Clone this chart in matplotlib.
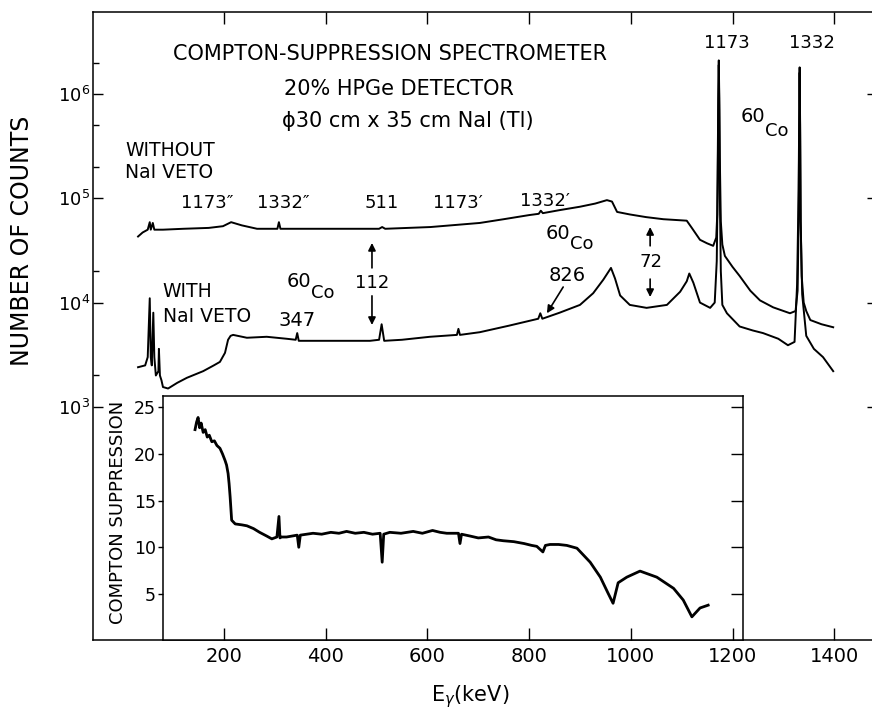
import matplotlib
matplotlib.use("Agg")
import matplotlib.pyplot as plt
from matplotlib.ticker import FixedLocator, NullFormatter, NullLocator, LogFormatterMathtext

plt.rcParams.update({
    "font.family": "DejaVu Sans", "axes.linewidth": 1.1,
    "xtick.major.width": 1.0, "ytick.major.width": 1.0, "ytick.minor.width": 1.0,
})

# HPGe spectrum without NaI veto (keV, counts)
E_WITHOUT = [31, 40, 50, 54, 56, 60, 63, 80, 120, 170, 198, 214, 235, 265, 305, 308, 311,
             400, 505, 511, 517, 606, 703, 750, 800, 819, 823, 827, 860, 900, 930, 953, 963,
             973, 998, 1030, 1064, 1110, 1120, 1136, 1150, 1162, 1168, 1170, 1171, 1172, 1173,
             1174, 1175, 1177, 1180, 1185, 1200, 1214, 1235, 1254, 1280, 1313, 1324, 1328, 1330,
             1331, 1332, 1333, 1334, 1336, 1340, 1345, 1353, 1375, 1398]
N_WITHOUT = [4.3e4, 4.7e4, 5.0e4, 5.9e4, 5.0e4, 5.8e4, 5.0e4, 5.0e4, 5.1e4, 5.2e4, 5.4e4, 5.9e4,
             5.5e4, 5.1e4, 5.1e4, 5.9e4, 5.1e4, 5.1e4, 5.1e4, 5.3e4, 5.1e4, 5.3e4, 5.8e4, 6.3e4,
             6.9e4, 7.1e4, 7.6e4, 7.2e4, 7.7e4, 8.3e4, 8.9e4, 9.6e4, 9.3e4, 7.4e4, 7.0e4, 6.6e4,
             6.3e4, 6.1e4, 5.2e4, 4.0e4, 3.7e4, 3.5e4, 4.2e4, 7e4, 2.5e5, 9e5, 2.1e6, 9e5, 2.5e5,
             6e4, 3.6e4, 2.8e4, 2.2e4, 1.8e4, 1.3e4, 1.05e4, 9.0e3, 7.9e3, 8.3e3, 1.3e4, 6e4, 4e5,
             1.8e6, 4e5, 6e4, 1.8e4, 1.0e4, 8.3e3, 6.8e3, 6.2e3, 5.8e3]

# HPGe spectrum with NaI veto (keV, counts)
E_WITH = [31, 45, 50, 54, 56, 58, 61, 63, 66, 71, 72, 74, 77, 80, 90, 108, 127, 159, 180, 192,
          202, 208, 213, 218, 245, 284, 323, 341, 344, 347, 363, 400, 487, 505, 510, 515, 550,
          605, 658, 661, 664, 703, 760, 818, 822, 826, 860, 900, 926, 946, 961, 969, 979, 998,
          1031, 1071, 1097, 1110, 1115, 1123, 1136, 1156, 1165, 1169, 1171, 1172, 1173, 1174,
          1175, 1177, 1180, 1189, 1214, 1240, 1260, 1290, 1309, 1322, 1327, 1330, 1331, 1332,
          1333, 1334, 1337, 1345, 1360, 1378, 1398]
N_WITH = [2.4e3, 2.5e3, 3.0e3, 1.1e4, 3.0e3, 2.5e3, 8.0e3, 3.0e3, 2.0e3, 2.2e3, 3.6e3, 2.0e3,
          1.8e3, 1.55e3, 1.5e3, 1.7e3, 1.9e3, 2.2e3, 2.5e3, 2.7e3, 3.3e3, 4.4e3, 4.8e3, 4.9e3,
          4.6e3, 4.7e3, 4.5e3, 4.4e3, 5.1e3, 4.3e3, 4.3e3, 4.3e3, 4.3e3, 4.4e3, 6.2e3, 4.3e3,
          4.4e3, 4.7e3, 4.9e3, 5.6e3, 4.9e3, 5.2e3, 6.0e3, 7.0e3, 7.9e3, 7.0e3, 8.0e3, 9.5e3,
          1.23e4, 1.66e4, 2.15e4, 1.7e4, 1.17e4, 9.5e3, 8.9e3, 9.5e3, 1.27e4, 1.6e4, 1.9e4,
          1.55e4, 1.0e4, 8.9e3, 1.0e4, 2.5e4, 1.5e5, 7e5, 1.9e6, 7e5, 1.2e5, 2.0e4, 9.5e3, 7.9e3,
          5.9e3, 5.4e3, 5.1e3, 4.5e3, 3.9e3, 4.2e3, 1.5e4, 1.2e5, 5e5, 1.6e6, 5e5, 6e4, 1.2e4,
          4.8e3, 3.6e3, 3.0e3, 2.2e3]

# Compton suppression factor (keV, ratio)
E_RATIO = [143, 146, 149, 152, 155, 159, 163, 167, 171, 176, 181, 186, 192, 197, 202, 205, 208,
           210, 212, 215, 222, 235, 245, 258, 270, 284, 294, 304, 308, 310, 312, 323, 344, 347,
           350, 375, 392, 410, 426, 441, 458, 475, 492, 507, 511, 514, 526, 548, 572, 590, 610,
           625, 638, 661, 664, 667, 684, 700, 720, 735, 749, 770, 790, 805, 815, 827, 832, 841,
           858, 874, 894, 920, 940, 955, 965, 975, 992, 1018, 1051, 1084, 1103, 1120, 1136, 1152]
RATIO = [22.6, 23.4, 23.9, 22.8, 23.3, 22.3, 22.6, 21.8, 22.0, 21.3, 21.4, 20.9, 20.6, 20.0, 19.3,
         18.8, 17.9, 16.8, 15.4, 12.9, 12.5, 12.4, 12.3, 12.0, 11.6, 11.2, 10.9, 11.1, 13.3, 11.0,
         11.1, 11.1, 11.3, 10.0, 11.3, 11.5, 11.4, 11.6, 11.5, 11.7, 11.5, 11.6, 11.4, 11.5, 8.4,
         11.4, 11.6, 11.5, 11.7, 11.5, 11.8, 11.6, 11.5, 11.5, 10.4, 11.4, 11.2, 11.0, 11.1, 10.8,
         10.7, 10.6, 10.4, 10.2, 10.1, 9.5, 10.2, 10.3, 10.3, 10.2, 9.9, 8.4, 6.8, 5.1, 4.0, 6.2,
         6.8, 7.45, 6.8, 5.6, 4.35, 2.55, 3.5, 3.8]

X_TICKS = [200, 400, 600, 800, 1000, 1200, 1400]
INSET_X_TICKS = [200, 400, 600, 800, 1000, 1200]
Y_MAJOR = [1e3, 1e4, 1e5, 1e6]
Y_MINOR = [2e3, 2e4, 2e5, 5e5, 2e6]
RATIO_TICKS = [5, 10, 15, 20, 25]

W, H = 872, 716
fig = plt.figure(figsize=(W / 100, H / 100), dpi=100)

# ---- main spectrum axes -------------------------------------------------
ax = fig.add_axes([93 / W, 76 / H, 779 / W, 628 / H])
ax.plot(E_WITHOUT, N_WITHOUT, color="black", lw=1.4)
ax.plot(E_WITH, N_WITH, color="black", lw=1.4)
ax.set_yscale("log")
ax.set_xlim(-57.6, 1474.3)
ax.set_ylim(5.82, 6.11e6)
ax.spines["right"].set_visible(False)

ax.set_xticks(X_TICKS)
ax.xaxis.set_minor_locator(NullLocator())
ax.tick_params(axis="x", direction="in", length=8.6, top=True, labelsize=14, pad=5)
ax.yaxis.set_major_locator(FixedLocator(Y_MAJOR))
ax.yaxis.set_major_formatter(LogFormatterMathtext())
ax.yaxis.set_minor_locator(FixedLocator(Y_MINOR))
ax.yaxis.set_minor_formatter(NullFormatter())
ax.tick_params(axis="y", which="major", direction="in", length=7.5, labelsize=13, pad=2)
ax.tick_params(axis="y", which="minor", direction="in", length=4.5)

sec = ax.secondary_yaxis("right")
sec.yaxis.set_major_locator(FixedLocator(Y_MAJOR))
sec.yaxis.set_minor_locator(NullLocator())
sec.tick_params(axis="y", direction="in", length=3.6, labelright=False)
for s in sec.spines.values():
    s.set_visible(False)

ax.set_ylabel("NUMBER OF COUNTS", fontsize=17, va="center")
ax.yaxis.set_label_coords(-0.0911, 0.6354)
ax.set_xlabel(r"E$_{\gamma}$(keV)", fontsize=15, va="center")
ax.xaxis.set_label_coords(0.484, -0.0908)

# ---- annotations ------------------------------------------------------
txt = dict(color="black", ha="center", va="center")
ax.text(526, 2.42e6, "COMPTON-SUPPRESSION SPECTROMETER", fontsize=15, **txt)
ax.text(545, 1.12e6, "20% HPGe DETECTOR", fontsize=15, **txt)
ax.text(561, 5.51e5, "\u03d530 cm x 35 cm NaI (Tl)", fontsize=15, **txt)

ax.text(1189, 3.08e6, "1173", fontsize=13, **txt)
ax.text(1356, 3.08e6, "1332", fontsize=13, **txt)

ax.text(5.3, 2.9e5, "WITHOUT", fontsize=13.5, ha="left", va="center")
ax.text(5.3, 1.75e5, "NaI VETO", fontsize=13.5, ha="left", va="center")
ax.text(78, 1.27e4, "WITH", fontsize=13.5, ha="left", va="center")
ax.text(80, 7.3e3, "NaI VETO", fontsize=13.5, ha="left", va="center")

for e, lab in [(167, "1173\u2033"), (316, "1332\u2033"), (511, "511"), (660, "1173\u2032")]:
    ax.text(e, 9.0e4, lab, fontsize=13, **txt)
ax.text(831, 9.4e4, "1332\u2032", fontsize=13, **txt)


def co60(x, y, dy=-9):
    ax.text(x, y, "60", fontsize=14, **txt)
    ax.annotate("Co", (x, y), xytext=(17, dy), textcoords="offset points",
                fontsize=13, ha="center", va="center")


co60(1240, 6.15e5, dy=-11)
co60(857, 4.55e4, dy=-7.5)
co60(347, 1.58e4, dy=-8)

ax.text(874, 1.8e4, "826", fontsize=14, **txt)
ax.text(344, 6.8e3, "347", fontsize=14, **txt)

arrow = dict(arrowstyle="-|>", color="black", lw=1.2, mutation_scale=11, shrinkA=0, shrinkB=0)
ax.annotate("", xy=(835, 7.9e3), xytext=(867, 1.41e4), arrowprops=arrow)

ax.text(491, 1.54e4, "112", fontsize=13, **txt)
ax.annotate("", xy=(491, 3.73e4), xytext=(491, 2.15e4), arrowprops=arrow)
ax.annotate("", xy=(491, 6.1e3), xytext=(491, 1.16e4), arrowprops=arrow)

ax.text(1040, 2.45e4, "72", fontsize=13, **txt)
ax.annotate("", xy=(1038, 5.3e4), xytext=(1038, 3.5e4), arrowprops=arrow)
ax.annotate("", xy=(1038, 1.13e4), xytext=(1038, 1.68e4), arrowprops=arrow)

# ---- inset: suppression factor ------------------------------------------
ins = fig.add_axes([163 / W, 76 / H, 580 / W, 244 / H])
ins.plot(E_RATIO, RATIO, color="black", lw=2.0)
ins.set_xlim(80.0, 1220.5)
ins.set_ylim(0.07, 26.2)
ins.set_xticks(INSET_X_TICKS)
ins.tick_params(axis="x", direction="in", length=8.6, labelbottom=False)
ins.set_yticks(RATIO_TICKS)
ins.tick_params(axis="y", direction="out", length=3.6, labelsize=12.5, pad=1.5)

isec = ins.secondary_yaxis("right")
isec.set_yticks(RATIO_TICKS)
isec.tick_params(axis="y", direction="in", length=8.6, labelright=False)
for s in isec.spines.values():
    s.set_visible(False)

ins.set_ylabel("COMPTON SUPPRESSION", fontsize=13, va="center")
ins.yaxis.set_label_coords(-0.0776, 0.5246)

fig.savefig("out.png", dpi=100)
